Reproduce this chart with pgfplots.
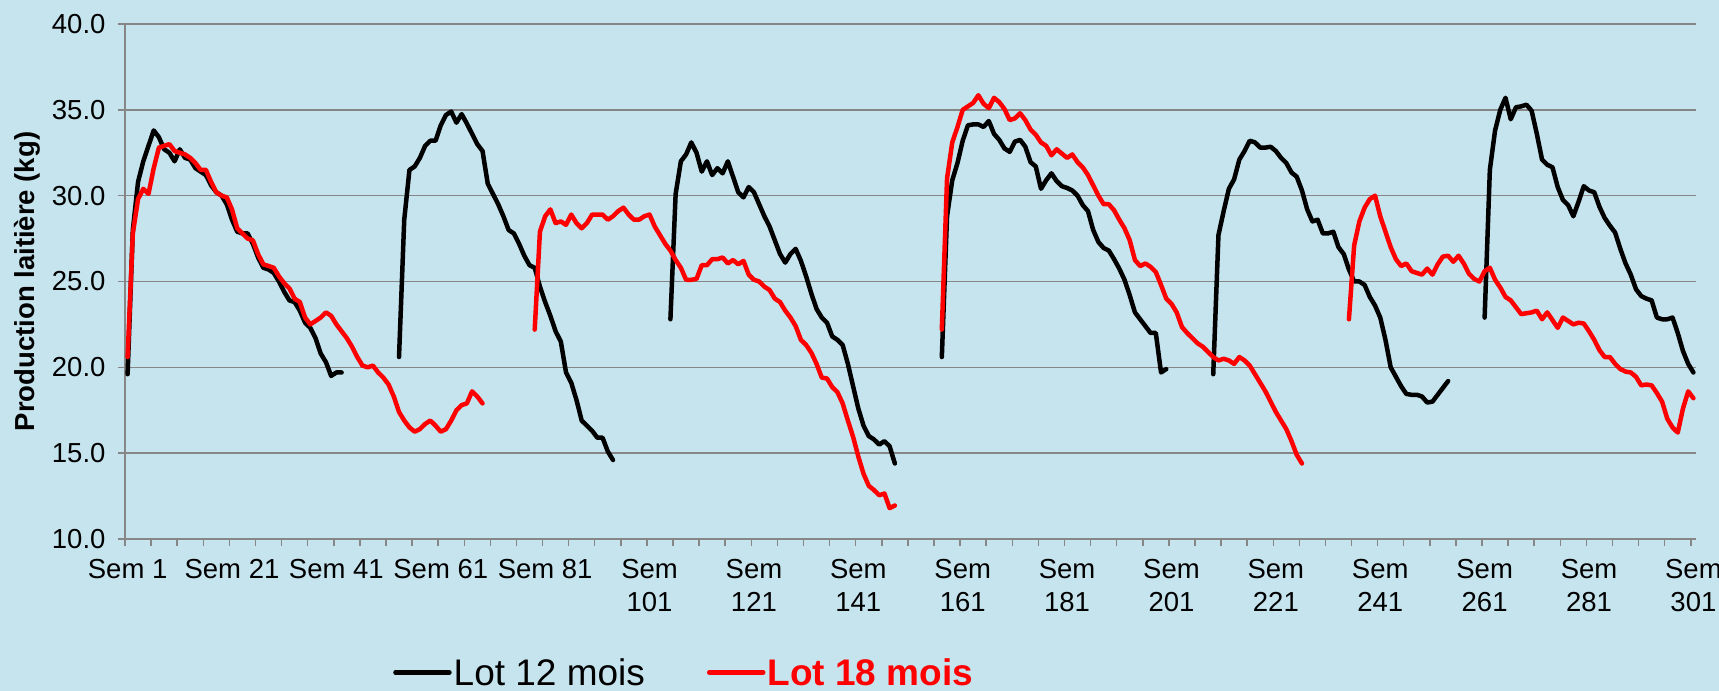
\documentclass[border=0pt]{standalone}
\usepackage{pgfplots}
\pgfplotsset{compat=1.18}
\usepackage{pgfplotstable}
\usepackage{fontspec}
\setmainfont{Liberation Sans}
\definecolor{bg}{RGB}{198,228,238}
\definecolor{gridgray}{RGB}{134,134,134}

\pgfplotstableread{
w v
1 19.6
2 28.0
3 30.8
4 32.0
5 32.9
6 33.8
7 33.4
8 32.7
9 32.5
10 32.0
11 32.7
12 32.2
13 32.1
14 31.6
15 31.4
16 31.2
17 30.6
18 30.2
19 30.0
20 29.5
21 28.6
22 27.9
23 27.8
24 27.8
25 27.2
26 26.4
27 25.8
28 25.7
29 25.5
30 25.0
31 24.4
32 23.9
33 23.8
34 23.3
35 22.6
36 22.3
37 21.7
38 20.8
39 20.3
40 19.5
41 19.7
42 19.7
43 nan
53 20.6
54 28.6
55 31.5
56 31.7
57 32.2
58 32.9
59 33.2
60 33.2
61 34.1
62 34.7
63 34.9
64 34.25
65 34.75
66 34.2
67 33.6
68 33.0
69 32.6
70 30.7
71 30.1
72 29.5
73 28.8
74 28.0
75 27.8
76 27.2
77 26.5
78 25.95
79 25.8
80 24.7
81 23.8
82 23.0
83 22.1
84 21.5
85 19.7
86 19.1
87 18.1
88 16.9
89 16.6
90 16.3
91 15.9
92 15.9
93 15.1
94 14.6
95 nan
105 22.8
106 30.1
107 32.0
108 32.4
109 33.1
110 32.5
111 31.4
112 32.0
113 31.2
114 31.6
115 31.3
116 32.0
117 31.1
118 30.2
119 29.9
120 30.5
121 30.2
122 29.5
123 28.8
124 28.2
125 27.4
126 26.6
127 26.1
128 26.6
129 26.9
130 26.2
131 25.3
132 24.3
133 23.4
134 22.9
135 22.6
136 21.8
137 21.6
138 21.3
139 20.2
140 18.9
141 17.6
142 16.6
143 16.0
144 15.8
145 15.5
146 15.7
147 15.4
148 14.4
149 nan
157 20.6
158 28.8
159 30.9
160 31.9
161 33.2
162 34.1
163 34.15
164 34.15
165 34.0
166 34.35
167 33.6
168 33.25
169 32.75
170 32.55
171 33.15
172 33.25
173 32.85
174 31.95
175 31.7
176 30.4
177 30.9
178 31.3
179 30.85
180 30.55
181 30.45
182 30.3
183 30.0
184 29.45
185 29.1
186 28.0
187 27.3
188 26.95
189 26.8
190 26.3
191 25.75
192 25.1
193 24.2
194 23.2
195 22.8
196 22.4
197 22.0
198 22.0
199 19.7
200 19.9
201 nan
209 19.6
210 27.7
211 29.1
212 30.4
213 30.95
214 32.1
215 32.6
216 33.2
217 33.1
218 32.8
219 32.8
220 32.85
221 32.6
222 32.2
223 31.9
224 31.35
225 31.1
226 30.3
227 29.2
228 28.5
229 28.6
230 27.8
231 27.8
232 27.9
233 27.0
234 26.6
235 25.7
236 25.0
237 25.0
238 24.8
239 24.1
240 23.6
241 22.9
242 21.6
243 20.0
244 19.45
245 18.9
246 18.45
247 18.4
248 18.4
249 18.3
250 17.95
251 18.0
252 18.4
253 18.8
254 19.2
255 nan
261 22.9
262 31.5
263 33.8
264 35.0
265 35.7
266 34.45
267 35.15
268 35.2
269 35.3
270 34.95
271 33.6
272 32.1
273 31.8
274 31.65
275 30.5
276 29.75
277 29.45
278 28.8
279 29.65
280 30.55
281 30.3
282 30.2
283 29.35
284 28.7
285 28.25
286 27.85
287 26.9
288 26.05
289 25.4
290 24.55
291 24.15
292 24.0
293 23.9
294 22.9
295 22.8
296 22.8
297 22.9
298 22.0
299 20.95
300 20.2
301 19.7
}\blacktab

\pgfplotstableread{
w v
1 20.6
2 27.8
3 29.8
4 30.4
5 30.1
6 31.6
7 32.8
8 32.9
9 33.0
10 32.6
11 32.5
12 32.4
13 32.2
14 31.9
15 31.5
16 31.5
17 30.8
18 30.2
19 30.0
20 29.9
21 29.2
22 28.1
23 27.8
24 27.5
25 27.4
26 26.6
27 26.0
28 25.9
29 25.8
30 25.3
31 24.9
32 24.6
33 24.0
34 23.8
35 22.9
36 22.5
37 22.7
38 22.9
39 23.2
40 23.0
41 22.5
42 22.1
43 21.7
44 21.2
45 20.6
46 20.1
47 20.0
48 20.1
49 19.7
50 19.4
51 19.0
52 18.3
53 17.4
54 16.9
55 16.5
56 16.25
57 16.4
58 16.7
59 16.9
60 16.6
61 16.25
62 16.4
63 16.9
64 17.5
65 17.8
66 17.9
67 18.6
68 18.3
69 17.9
70 nan
79 22.2
80 27.9
81 28.8
82 29.2
83 28.4
84 28.5
85 28.3
86 28.9
87 28.4
88 28.1
89 28.4
90 28.9
91 28.9
92 28.9
93 28.6
94 28.8
95 29.1
96 29.3
97 28.9
98 28.6
99 28.6
100 28.8
101 28.9
102 28.2
103 27.7
104 27.2
105 26.8
106 26.25
107 25.8
108 25.1
109 25.1
110 25.15
111 25.95
112 25.95
113 26.3
114 26.3
115 26.4
116 26.05
117 26.25
118 26.0
119 26.2
120 25.4
121 25.1
122 25.0
123 24.7
124 24.5
125 24.0
126 23.8
127 23.3
128 22.9
129 22.4
130 21.6
131 21.3
132 20.85
133 20.2
134 19.4
135 19.35
136 18.85
137 18.55
138 17.9
139 16.9
140 15.95
141 14.8
142 13.8
143 13.1
144 12.85
145 12.55
146 12.65
147 11.8
148 11.95
149 nan
157 22.2
158 31.0
159 33.1
160 34.0
161 35.0
162 35.2
163 35.4
164 35.85
165 35.35
166 35.1
167 35.7
168 35.45
169 35.05
170 34.4
171 34.5
172 34.8
173 34.4
174 33.85
175 33.55
176 33.1
177 32.9
178 32.35
179 32.7
180 32.45
181 32.2
182 32.4
183 31.95
184 31.65
185 31.2
186 30.6
187 30.0
188 29.5
189 29.5
190 29.15
191 28.6
192 28.1
193 27.4
194 26.25
195 25.9
196 26.05
197 25.85
198 25.55
199 24.8
200 24.0
201 23.7
202 23.2
203 22.35
204 22.0
205 21.7
206 21.4
207 21.2
208 20.9
209 20.6
210 20.4
211 20.5
212 20.4
213 20.2
214 20.6
215 20.4
216 20.1
217 19.6
218 19.1
219 18.6
220 18.0
221 17.4
222 16.9
223 16.4
224 15.7
225 14.9
226 14.4
227 nan
235 22.8
236 27.1
237 28.5
238 29.3
239 29.8
240 30.0
241 28.8
242 27.9
243 27.0
244 26.3
245 25.9
246 26.05
247 25.6
248 25.5
249 25.4
250 25.75
251 25.4
252 26.0
253 26.45
254 26.5
255 26.15
256 26.5
257 26.05
258 25.45
259 25.15
260 25.0
261 25.6
262 25.8
263 25.1
264 24.65
265 24.1
266 23.9
267 23.5
268 23.1
269 23.15
270 23.2
271 23.3
272 22.8
273 23.2
274 22.75
275 22.3
276 22.9
277 22.7
278 22.5
279 22.6
280 22.55
281 22.1
282 21.6
283 21.0
284 20.6
285 20.6
286 20.2
287 19.9
288 19.75
289 19.7
290 19.45
291 18.95
292 19.0
293 18.95
294 18.5
295 18.0
296 17.0
297 16.5
298 16.2
299 17.6
300 18.6
301 18.2
}\redtab

\begin{document}
\begin{tikzpicture}[x=1bp,y=1bp]
\path[use as bounding box, fill=bg] (0,0) rectangle (1719,691);
\begin{axis}[
  at={(125bp,152bp)}, anchor=south west,
  width=1571bp, height=515bp, scale only axis,
  xmin=0.5, xmax=301.5, ymin=10, ymax=40,
  axis x line*=bottom, axis y line*=left,
  axis line style={gridgray, line width=1.5bp},
  tick align=outside,
  major tick length=7bp,
  tick style={gridgray, line width=1.5bp},
  ytick={10,15,...,40},
  ymajorgrids,
  grid style={gridgray, line width=1.5bp},
  /pgf/number format/assume math mode=true,
  y tick label style={/pgf/number format/fixed, /pgf/number format/fixed zerofill, /pgf/number format/precision=1, xshift=-9bp},
  tick label style={font=\fontsize{27.5bp}{31bp}\selectfont, text=black},
  xtick={0.5,5.5,...,300.5},
  xticklabels={},
  extra x ticks={1,21,41,61,81,101,121,141,161,181,201,221,241,261,281,301},
  extra x tick labels={Sem 1,Sem 21,Sem 41,Sem 61,Sem 81,{Sem\\[2bp]101},{Sem\\[2bp]121},{Sem\\[2bp]141},{Sem\\[2bp]161},{Sem\\[2bp]181},{Sem\\[2bp]201},{Sem\\[2bp]221},{Sem\\[2bp]241},{Sem\\[2bp]261},{Sem\\[2bp]281},{Sem\\[2bp]301}},
  extra x tick style={major tick length=0pt, grid=none, tick style={draw=none}},
  x tick label style={align=center, anchor=north, yshift=-17bp},
  ylabel={Production laitière (kg)},
  ylabel style={font=\fontsize{27.5bp}{31bp}\selectfont\bfseries, at={(axis description cs:-0.0624,0.5)}, anchor=center},
  unbounded coords=jump,
  legend style={at={(axis description cs:0.1687,-0.2592)}, anchor=west, draw=none, fill=none,
    legend columns=2, font=\fontsize{37bp}{44bp}\selectfont,
    /tikz/every even column/.append style={column sep=60bp},
    nodes={inner xsep=2bp, inner ysep=0bp}},
  legend image code/.code={\draw[#1, line width=4.5bp] (0bp,0bp) -- (54bp,0bp);},
]
\addplot[black, line width=4.5bp, line join=round, line cap=round] table[x=w,y=v]{\blacktab};
\addlegendentry{Lot 12 mois}
\addplot[red, line width=4.5bp, line join=round, line cap=round] table[x=w,y=v]{\redtab};
\addlegendentry{\textcolor{red}{\bfseries Lot 18 mois}}
\end{axis}
\end{tikzpicture}
\end{document}
